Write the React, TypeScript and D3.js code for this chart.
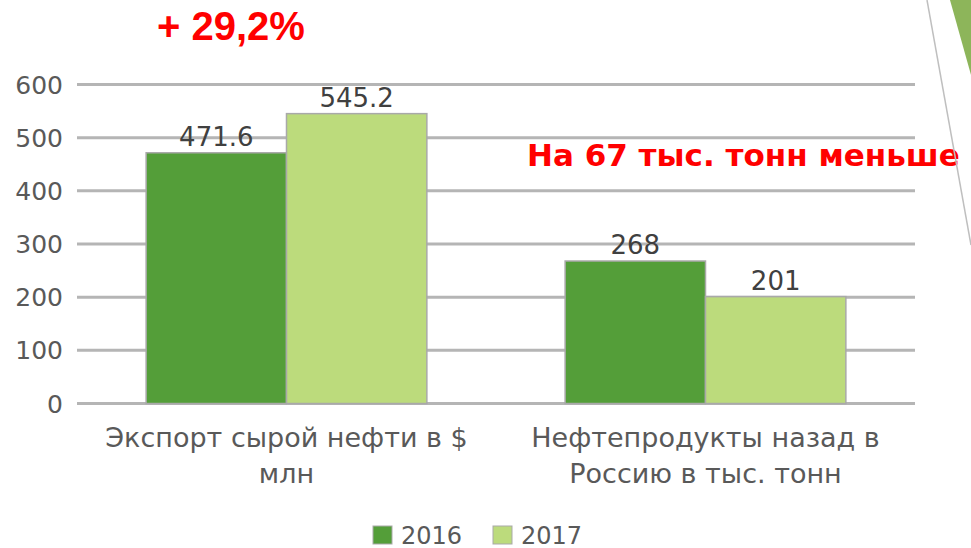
import * as d3 from "d3";

const categories = ["Экспорт сырой нефти в $|млн", "Нефтепродукты назад в|Россию в тыс. тонн"];
const series = ["2016", "2017"];
const values2016 = [471.6, 268];
const values2017 = [545.2, 201];
const valueLabels2016 = ["471.6", "268"];
const valueLabels2017 = ["545.2", "201"];
const yTicks = [0, 100, 200, 300, 400, 500, 600];

const W = 971;
const H = 548;
const colors = ["#549e39", "#bcdb7c"];
const font = "'DejaVu Sans', 'Open Sans', sans-serif";

const App = () => {
  const x0 = d3.scaleBand().domain(categories).range([77, 915]).paddingInner(0.33).paddingOuter(0.165);
  const x1 = d3.scaleBand().domain(series).range([0, x0.bandwidth()]);
  const y = d3.scaleLinear().domain([0, 600]).range([403.5, 84.5]);

  const data = [values2016, values2017];
  const labels = [valueLabels2016, valueLabels2017];

  return (
    <svg width={W} height={H} style={{ position: "absolute", left: 0, top: 0, background: "#fff" }} fontFamily={font}>
      {/* gridlines */}
      {yTicks.map((t) => (
        <line key={t} x1={77} x2={915} y1={y(t)} y2={y(t)} stroke="#b5b5b5" strokeWidth={3} />
      ))}
      {/* tick labels */}
      {yTicks.map((t) => (
        <text key={"l" + t} x={63} y={y(t)} dy="0.36em" textAnchor="end" fontSize={25} fill="#595959">
          {t}
        </text>
      ))}
      {/* bars */}
      {series.map((s, si) =>
        categories.map((c, ci) => (
          <g key={s + c}>
            <rect
              x={(x0(c) || 0) + (x1(s) || 0)}
              y={y(data[si][ci])}
              width={x1.bandwidth()}
              height={y(0) - y(data[si][ci])}
              fill={colors[si]}
              stroke="#a9a9a9"
              strokeWidth={1.5}
            />
            <text
              x={(x0(c) || 0) + (x1(s) || 0) + x1.bandwidth() / 2}
              y={y(data[si][ci]) - 7}
              textAnchor="middle"
              fontSize={26}
              fill="#404040"
            >
              {labels[si][ci]}
            </text>
          </g>
        ))
      )}
      {/* category labels */}
      {categories.map((c) =>
        c.split("|").map((line, li) => (
          <text
            key={c + li}
            x={(x0(c) || 0) + x0.bandwidth() / 2}
            y={447 + li * 36}
            textAnchor="middle"
            fontSize={27}
            fill="#595959"
          >
            {line}
          </text>
        ))
      )}
      {/* legend */}
      {series.map((s, si) => (
        <g key={"lg" + s} transform={`translate(${373 + si * 120},0)`}>
          <rect x={0} y={526} width={19} height={18} fill={colors[si]} stroke="#a9a9a9" strokeWidth={1} />
          <text x={28} y={544} fontSize={24} fill="#595959">
            {s}
          </text>
        </g>
      ))}
      {/* annotations */}
      <text x={157} y={40} fontSize={40} fontWeight="bold" fill="#ff0000" fontFamily="'Liberation Sans', Arial, sans-serif">
        + 29,2%
      </text>
      <text x={527} y={166} fontSize={31} fontWeight="bold" fill="#ff0000">
        На 67 тыс. тонн меньше
      </text>
      {/* slide decoration */}
      <line x1={927} y1={0} x2={971} y2={245} stroke="#bfbfbf" strokeWidth={1.5} />
      <polygon points="950,0 971,0 971,75" fill="#8db55a" />
    </svg>
  );
};

export default App;
